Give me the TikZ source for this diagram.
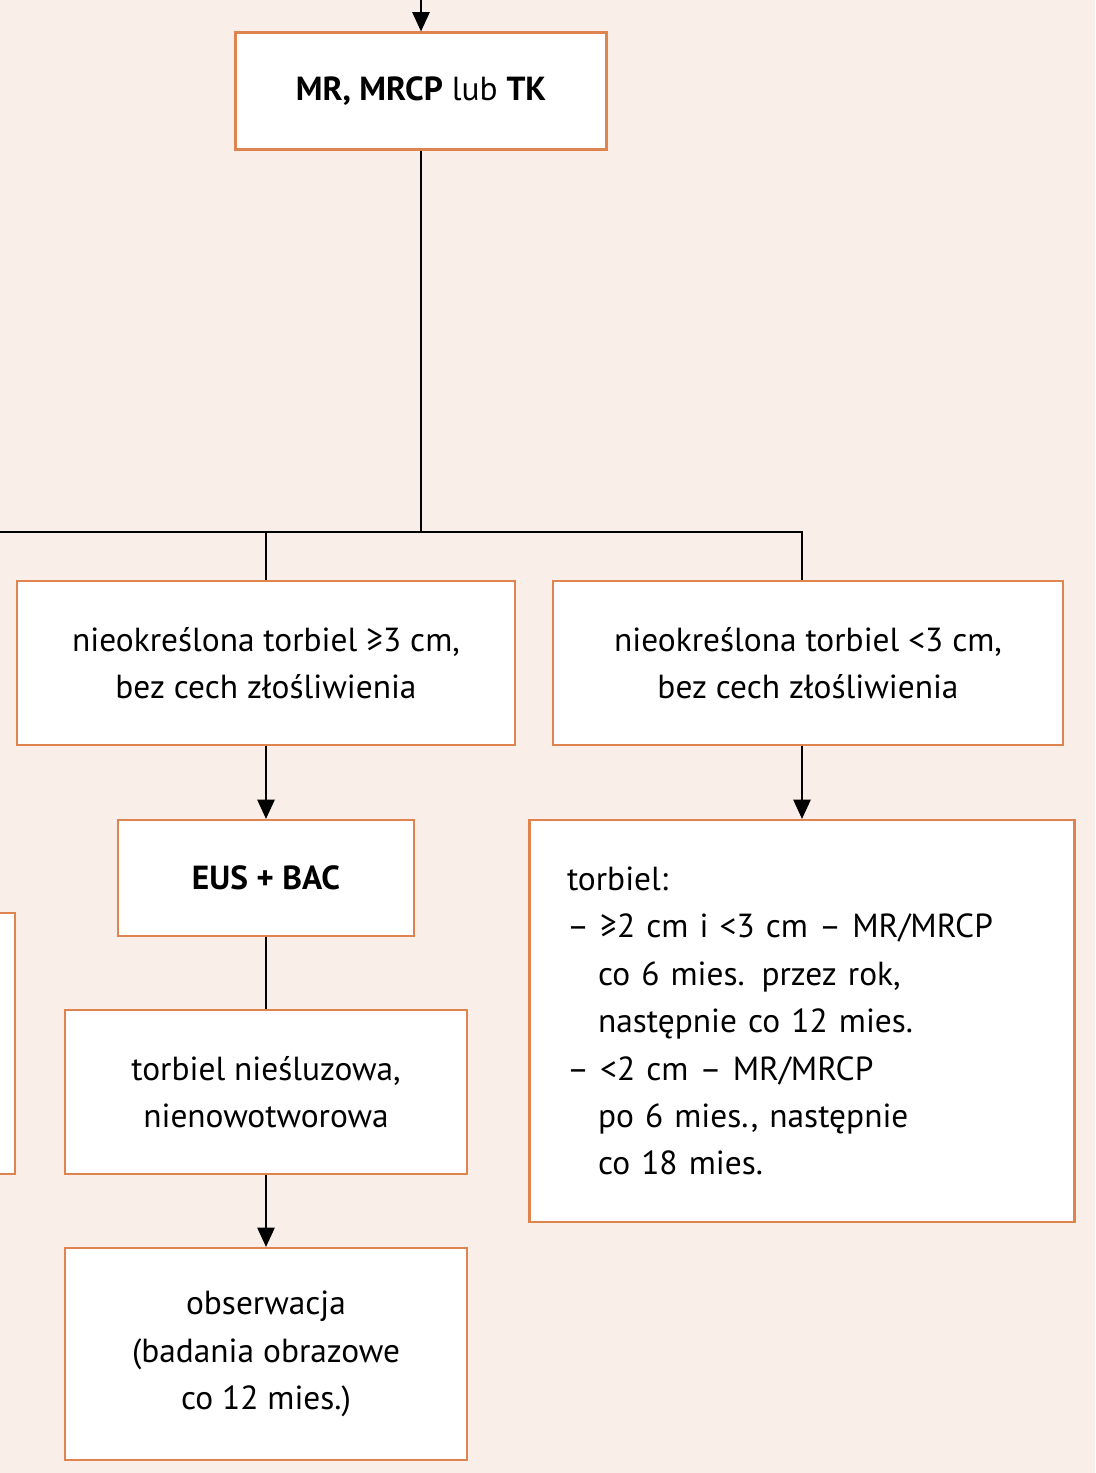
\documentclass[tikz,border=0pt]{standalone}
\usepackage{fontspec}
\setmainfont{PT Sans}
\usepackage{tikz}
\usetikzlibrary{arrows.meta}
\definecolor{bgpink}{HTML}{FAEEE8}
\definecolor{boxorange}{HTML}{E0844F}
\tikzset{
    box/.style={draw=boxorange,line width=1.3pt,fill=white,align=center,inner sep=0pt,
        font=\fontsize{19}{27}\selectfont},
    conn/.style={line width=0.6pt},
    arr/.style={conn,-{Triangle[length=11pt,width=10pt]}}
}
\begin{document}
\begin{tikzpicture}[x=0.02cm,y=-0.02cm]
    \fill[bgpink] (0,0) rectangle (1095,1473);
    \useasboundingbox (0,0) rectangle (1095,1473);

    \node[box,minimum width=371*0.02cm,minimum height=117*0.02cm] (mr) at (421,91)
        {\textbf{MR, MRCP} lub \textbf{TK}};
    \node[box,minimum width=498*0.02cm,minimum height=164*0.02cm] (big) at (266,663)
        {nieokreślona torbiel ≥3 cm,\\bez cech złośliwienia};
    \node[box,minimum width=510*0.02cm,minimum height=164*0.02cm] (small) at (808,663)
        {nieokreślona torbiel <3 cm,\\bez cech złośliwienia};
    \node[box,minimum width=296*0.02cm,minimum height=116*0.02cm] (eus) at (266,878)
        {\textbf{EUS + BAC}};
    \node[box,minimum width=402*0.02cm,minimum height=164*0.02cm] (nonmuc) at (266,1092)
        {torbiel nieśluzowa,\\nienowotworowa};
    \node[box,minimum width=402*0.02cm,minimum height=212*0.02cm] (obs) at (266,1354)
        {obserwacja\\(badania obrazowe\\co 12 mies.)};
    \node[box,minimum width=545*0.02cm,minimum height=402*0.02cm,align=left,
          text width=470*0.02cm] (follow) at (802,1021)
        {torbiel:\\
         – ≥2 cm i <3 cm – MR/MRCP\\
         \hspace*{0.62cm}co 6 mies. przez rok,\\
         \hspace*{0.62cm}następnie co 12 mies.\\
         – <2 cm – MR/MRCP\\
         \hspace*{0.62cm}po 6 mies., następnie\\
         \hspace*{0.62cm}co 18 mies.};
    \draw[boxorange,line width=1.3pt,fill=white] (-20,913) rectangle (15,1174);

    \coordinate (top) at (421,0);
    \coordinate (split) at (421,532);
    \coordinate (leftend) at (0,532);
    \draw[arr] (top) -- (mr);
    \draw[conn] (mr) -- (split);
    \draw[conn] (leftend) -- (split) -| (follow.north |- small.north);
    \draw[conn] (big.north |- split) -- (big);
    \draw[arr] (big) -- (eus);
    \draw[arr] (follow.north |- small.south) -- (follow);
    \draw[conn] (eus) -- (nonmuc);
    \draw[arr] (nonmuc) -- (obs);
\end{tikzpicture}
\end{document}
